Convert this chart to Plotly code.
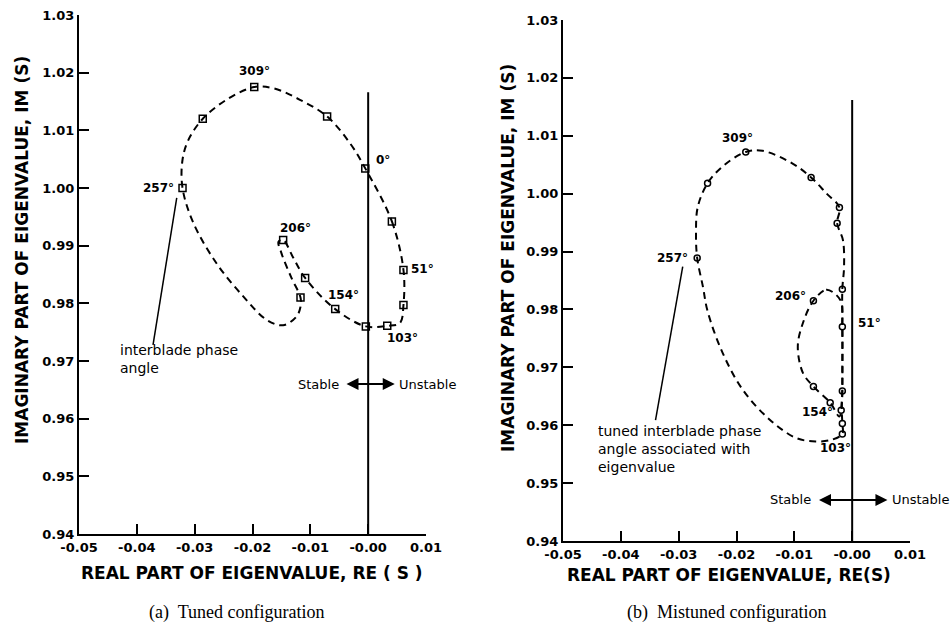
import plotly.graph_objects as go

# ---------------- data ----------------
# (a) Tuned configuration: eigenvalue locus (dashed) and marked eigenvalues
tuned_curve_re = [-0.0005, 0.0041, 0.0061, 0.0061, 0.0055, 0.0033, -0.0004, -0.0057, -0.0109,
                  -0.0130, -0.0147, -0.0155, -0.0150, -0.0133, -0.0117, -0.0117, -0.0124,
                  -0.0147, -0.0175, -0.0216, -0.0262, -0.0302, -0.0321, -0.0321, -0.0311,
                  -0.0286, -0.0245, -0.0197, -0.0164, -0.0118, -0.0071, -0.0031, -0.0005]
tuned_curve_im = [1.0034, 0.9942, 0.9858, 0.9797, 0.9766, 0.9761, 0.9760, 0.9790, 0.9844,
                  0.9880, 0.9910, 0.9907, 0.9887, 0.9845, 0.9810, 0.9794, 0.9777,
                  0.9762, 0.9771, 0.9812, 0.9869, 0.9939, 1.0000, 1.0049, 1.0083,
                  1.0120, 1.0153, 1.0175, 1.0173, 1.0153, 1.0124, 1.0077, 1.0034]
tuned_pts_re = [-0.0005, 0.0041, 0.0061, 0.0061, 0.0033, -0.0004, -0.0057, -0.0109,
                -0.0147, -0.0117, -0.0321, -0.0286, -0.0197, -0.0071]
tuned_pts_im = [1.0034, 0.9942, 0.9858, 0.9797, 0.9761, 0.9760, 0.9790, 0.9844,
                0.9910, 0.9810, 1.0000, 1.0120, 1.0175, 1.0124]
tuned_labels = ["309°", "0°", "257°", "206°", "154°", "51°", "103°"]
tuned_label_re = [-0.0197, 0.0010, -0.0333, -0.0125, -0.0043, 0.0071, 0.0060]
tuned_label_im = [1.0203, 1.0049, 1.0000, 0.9931, 0.9814, 0.9860, 0.9740]
tuned_label_anchor = ["center", "left", "right", "center", "center", "left", "center"]

# (b) Mistuned configuration
mis_outer_re = [-0.0022, -0.0026, -0.0016, -0.0014, -0.0017, -0.0017, -0.0017, -0.0018,
                -0.0017, -0.0017, -0.0035, -0.0063, -0.0097, -0.0143, -0.0189, -0.0224,
                -0.0250, -0.0258, -0.0268, -0.0270, -0.0267, -0.0250, -0.0224, -0.0184,
                -0.0155, -0.0103, -0.0071, -0.0045, -0.0022]
mis_outer_im = [0.9976, 0.9949, 0.9920, 0.9874, 0.9835, 0.9770, 0.9659, 0.9626,
                0.9603, 0.9585, 0.9575, 0.9572, 0.9578, 0.9610, 0.9661, 0.9725,
                0.9797, 0.9839, 0.9889, 0.9931, 0.9977, 1.0018, 1.0047, 1.0072,
                1.0074, 1.0052, 1.0028, 1.0001, 0.9976]
mis_inner_re = [-0.0067, -0.0045, -0.0031, -0.0019, -0.0017, -0.0017, -0.0018, -0.0022,
                -0.0038, -0.0067, -0.0085, -0.0094, -0.0085, -0.0067]
mis_inner_im = [0.9815, 0.9834, 0.9828, 0.9813, 0.9770, 0.9700, 0.9640, 0.9615,
                0.9639, 0.9667, 0.9690, 0.9736, 0.9777, 0.9815]
mis_pts_re = [-0.0184, -0.0250, -0.0268, -0.0071, -0.0022, -0.0026, -0.0017, -0.0017,
              -0.0017, -0.0019, -0.0017, -0.0017, -0.0038, -0.0067, -0.0067]
mis_pts_im = [1.0072, 1.0018, 0.9889, 1.0028, 0.9976, 0.9949, 0.9835, 0.9770,
              0.9659, 0.9626, 0.9603, 0.9585, 0.9639, 0.9667, 0.9815]
mis_labels = ["309°", "257°", "206°", "51°", "154°", "103°"]
mis_label_re = [-0.0198, -0.0281, -0.0077, 0.0007, -0.0060, -0.0028]
mis_label_im = [1.0096, 0.9889, 0.9823, 0.9777, 0.9623, 0.9561]
mis_label_anchor = ["center", "right", "right", "left", "center", "center"]

x_tickvals = [-0.05, -0.04, -0.03, -0.02, -0.01, 0.00, 0.01]
x_ticktext = ["-0.05", "-0.04", "-0.03", "-0.02", "-0.01", "-0.00", "0.01"]
y_tickvals = [0.94, 0.95, 0.96, 0.97, 0.98, 0.99, 1.00, 1.01, 1.02, 1.03]
y_ticktext = ["0.94", "0.95", "0.96", "0.97", "0.98", "0.99", "1.00", "1.01", "1.02", "1.03"]

boundary_re = 0.0
boundary_top = [1.0166, 1.0162]

# ---------------- figure ----------------
W, H = 952, 626
INK = "black"
FONT = "DejaVu Sans"
dash = "7px,5px"

fig = go.Figure()

def add_panel(xa, ya, curves, pts, symbol, msize):
    for cx, cy in curves:
        fig.add_trace(go.Scatter(x=cx, y=cy, mode="lines", xaxis=xa, yaxis=ya,
                                 line=dict(color=INK, width=2, dash=dash, shape="spline", smoothing=1.0),
                                 hoverinfo="skip", showlegend=False))
    fig.add_trace(go.Scatter(x=pts[0], y=pts[1], mode="markers", xaxis=xa, yaxis=ya,
                             marker=dict(symbol=symbol, size=msize, color=INK,
                                         line=dict(color=INK, width=1.5)),
                             showlegend=False))

add_panel("x", "y", [(tuned_curve_re, tuned_curve_im)], (tuned_pts_re, tuned_pts_im), "square-open", 7)
add_panel("x2", "y2", [(mis_outer_re, mis_outer_im), (mis_inner_re, mis_inner_im)],
          (mis_pts_re, mis_pts_im), "circle-open", 6)

axis_common = dict(showline=True, linecolor=INK, linewidth=2, mirror=False, showgrid=False,
                   zeroline=False, ticks="inside", ticklen=10, tickwidth=2, tickcolor=INK,
                   automargin=False,
                   tickfont=dict(family=FONT, size=13, color=INK, weight="bold"))

def px_domain_x(a, b):
    return [a / W, b / W]

def px_domain_y(top, bottom):
    return [1 - bottom / H, 1 - top / H]

fig.update_layout(
    width=W, height=H, margin=dict(l=0, r=0, t=0, b=0),
    paper_bgcolor="white", plot_bgcolor="white",
    xaxis=dict(domain=px_domain_x(79, 426), range=[-0.05, 0.01], anchor="y",
               tickvals=x_tickvals, ticktext=x_ticktext, **axis_common),
    yaxis=dict(domain=px_domain_y(15, 534), range=[0.94, 1.03], anchor="x",
               tickvals=y_tickvals, ticktext=y_ticktext, **axis_common),
    xaxis2=dict(domain=px_domain_x(563, 910), range=[-0.05, 0.01], anchor="y2",
                tickvals=x_tickvals, ticktext=x_ticktext, **axis_common),
    yaxis2=dict(domain=px_domain_y(20, 541), range=[0.94, 1.03], anchor="x2",
                tickvals=y_tickvals, ticktext=y_ticktext, **axis_common),
)

# stability boundary lines
for xr, yr, top in (("x", "y", boundary_top[0]), ("x2", "y2", boundary_top[1])):
    fig.add_shape(type="line", xref=xr, yref=yr, x0=boundary_re, x1=boundary_re,
                  y0=0.94, y1=top, line=dict(color=INK, width=2))

# angle labels
ann = []
lab_font = dict(family=FONT, size=12, color=INK, weight="bold")
for txt, x, y, a in zip(tuned_labels, tuned_label_re, tuned_label_im, tuned_label_anchor):
    ann.append(dict(text=txt, x=x, y=y, xref="x", yref="y", xanchor=a, yanchor="middle",
                    showarrow=False, font=lab_font))
for txt, x, y, a in zip(mis_labels, mis_label_re, mis_label_im, mis_label_anchor):
    ann.append(dict(text=txt, x=x, y=y, xref="x2", yref="y2", xanchor=a, yanchor="middle",
                    showarrow=False, font=lab_font))

# pointer notes
note_font = dict(family=FONT, size=14, color=INK)
ann.append(dict(text="interblade phase<br>angle", x=-0.0433, y=0.9703, xref="x", yref="y",
                xanchor="left", yanchor="middle", align="left", showarrow=False,
                font=note_font))
ann.append(dict(text="tuned interblade phase<br>angle associated with<br>eigenvalue",
                x=-0.0443, y=0.9559, xref="x2", yref="y2", xanchor="left", yanchor="middle",
                align="left", showarrow=False, font=note_font))
fig.add_shape(type="line", xref="x", yref="y", x0=-0.0331, y0=0.9983, x1=-0.0372, y1=0.9728,
              line=dict(color=INK, width=1.5))
fig.add_shape(type="line", xref="x2", yref="y2", x0=-0.0293, y0=0.9874, x1=-0.0340, y1=0.9609,
              line=dict(color=INK, width=1.5))

# Stable / Unstable arrows
su_font = dict(family=FONT, size=13, color=INK)
for xr, yr, xl, xrr, yy in (("x", "y", -0.0040, 0.0046, 0.9660), ("x2", "y2", -0.0060, 0.0061, 0.9471)):
    ann.append(dict(x=xrr, y=yy, ax=xl, ay=yy, xref=xr, yref=yr, axref=xr, ayref=yr,
                    showarrow=True, arrowside="end+start", arrowhead=2, arrowsize=1.2,
                    arrowwidth=2, arrowcolor=INK, text=""))
    ann.append(dict(text="Stable", x=xl - 0.0007, y=yy, xref=xr, yref=yr, xanchor="right",
                    yanchor="middle", showarrow=False, font=su_font))
    ann.append(dict(text="Unstable", x=xrr + 0.0004, y=yy, xref=xr, yref=yr, xanchor="left",
                    yanchor="middle", showarrow=False, font=su_font))

# axis titles and captions (paper coords from pixel positions)
def P(xpx, ypx):
    return xpx / W, 1 - ypx / H

title_font = dict(family=FONT, size=17, color=INK, weight="bold")
for cx, cy, txt in ((252, 573, "REAL PART OF EIGENVALUE, RE ( S )"),
                    (729, 575, "REAL PART OF EIGENVALUE, RE(S)")):
    x, y = P(cx, cy)
    ann.append(dict(text=txt, x=x, y=y, xref="paper", yref="paper", showarrow=False,
                    xanchor="center", yanchor="middle", font=title_font))
for cx, cy in ((22, 250), (508, 258)):
    x, y = P(cx, cy)
    ann.append(dict(text="IMAGINARY PART OF EIGENVALUE, IM (S)", x=x, y=y, xref="paper",
                    yref="paper", showarrow=False, textangle=-90, xanchor="center",
                    yanchor="middle", font=title_font))
for cx, cy, txt in ((236, 612, "(a)  Tuned configuration"), (726, 612, "(b)  Mistuned configuration")):
    x, y = P(cx, cy)
    ann.append(dict(text=txt, x=x, y=y, xref="paper", yref="paper", showarrow=False,
                    xanchor="center", yanchor="middle",
                    font=dict(family="Liberation Serif", size=18, color=INK)))

fig.update_layout(annotations=ann)
fig.write_html("out.html")
